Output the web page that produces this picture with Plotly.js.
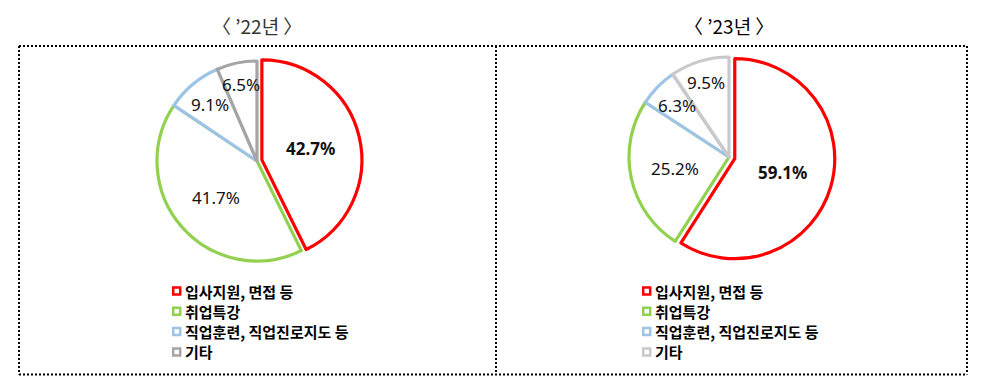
<!DOCTYPE html>
<html>
<head>
<meta charset="utf-8">
<script src="https://cdn.plot.ly/plotly-3.0.1.min.js"></script>
<style>
  html, body { margin: 0; padding: 0; background: #ffffff; }
  #chart { width: 982px; height: 385px; }
</style>
</head>
<body>
<div id="chart"></div>
<script>
// Categories shared by both years
const categories = ['입사지원, 면접 등', '취업특강', '직업훈련, 직업진로지도 등', '기타'];

// Share of each category (%)
const values2022 = [42.7, 41.7, 9.1, 6.5];
const values2023 = [59.1, 25.2, 6.3, 9.5];

const titles = ['〈 ’22년 〉', '〈 ’23년 〉'];

const colors2022 = ['#FF0000', '#92D050', '#9DC3E6', '#A5A5A5'];
const colors2023 = ['#FF0000', '#92D050', '#9DC3E6', '#C9C9C9'];

// ---- layout configuration (pixels) ----
const W = 982, H = 385;
const panels = [
  { values: values2022, colors: colors2022, title: titles[0], cx: 257, cy: 161, r: 100, pull: 0.05, legendX: 172, titleColor: '#333333' },
  { values: values2023, colors: colors2023, title: titles[1], cx: 729, cy: 157, r: 100, pull: 0.06, legendX: 642, titleColor: '#000000' }
];
// radial placement of the percentage labels, as a fraction of the radius
const labelRadius = [0.5, 0.55, 0.73, 0.78];
const legendRowY = 291, legendRowStep = 20.3;

const px2x = p => p / W;
const px2y = p => 1 - p / H;

const labelFont = 'Noto Sans, Noto Sans CJK KR, sans-serif';
const cjkFont = 'Noto Sans CJK KR, Noto Sans, sans-serif';

const traces = [];
const annotations = [];
const shapes = [];

panels.forEach((p, k) => {
  const half = p.r * (1 + p.pull);
  const pulls = p.values.map((v, i) => (i === 0 ? p.pull : 0));

  traces.push({
    type: 'pie',
    values: p.values,
    labels: categories,
    sort: false,
    direction: 'clockwise',
    rotation: 0,
    pull: pulls,
    textinfo: 'none',
    hoverinfo: 'label+percent',
    showlegend: false,
    marker: {
      colors: p.values.map(() => '#FFFFFF'),
      line: { color: p.colors, width: 3.2 }
    },
    domain: {
      x: [px2x(p.cx - half), px2x(p.cx + half)],
      y: [px2y(p.cy + half), px2y(p.cy - half)]
    }
  });

  // percentage labels placed along each slice's mid-angle
  const total = p.values.reduce((a, b) => a + b, 0);
  let cum = 0;
  p.values.forEach((v, i) => {
    const mid = (cum + v / 2) / total * 2 * Math.PI;
    cum += v;
    const dist = (pulls[i] + labelRadius[i]) * p.r;
    const lx = p.cx + dist * Math.sin(mid);
    const ly = p.cy - dist * Math.cos(mid);
    const txt = v.toFixed(1) + '%';
    annotations.push({
      xref: 'paper', yref: 'paper',
      x: px2x(lx), y: px2y(ly),
      xanchor: 'center', yanchor: 'middle',
      showarrow: false,
      text: i === 0 ? '<b>' + txt + '</b>' : txt,
      font: { family: labelFont, size: 17, color: '#111111' }
    });
  });

  // year heading
  annotations.push({
    xref: 'paper', yref: 'paper',
    x: px2x(p.cx), y: px2y(25),
    xanchor: 'center', yanchor: 'middle',
    showarrow: false,
    text: p.title,
    font: { family: cjkFont, size: 19, color: p.titleColor }
  });

  // legend: hollow coloured squares with bold labels
  categories.forEach((c, i) => {
    const yc = legendRowY + i * legendRowStep;
    shapes.push({
      type: 'rect', xref: 'paper', yref: 'paper',
      x0: px2x(p.legendX + 1.2), x1: px2x(p.legendX + 8.2),
      y0: px2y(yc + 3.5), y1: px2y(yc - 3.5),
      line: { color: p.colors[i], width: 2.5 },
      fillcolor: '#FFFFFF'
    });
    annotations.push({
      xref: 'paper', yref: 'paper',
      x: px2x(p.legendX + 10.5), y: px2y(yc),
      xanchor: 'left', yanchor: 'middle',
      showarrow: false,
      text: '<b>' + c + '</b>',
      font: { family: cjkFont, size: 15, color: '#000000' }
    });
  });
});

// dotted frame around both panels
const frameLine = { color: '#000000', width: 2, dash: '2px,2px' };
const frameLeft = 19, frameRight = 967, frameTop = 46, frameBottom = 374.5, frameDivider = 496;
[
  [frameLeft, frameTop, frameRight, frameTop],
  [frameLeft, frameBottom, frameRight, frameBottom],
  [frameLeft, frameTop, frameLeft, frameBottom],
  [frameRight, frameTop, frameRight, frameBottom],
  [frameDivider, frameTop, frameDivider, frameBottom]
].forEach(([x0, y0, x1, y1]) => {
  shapes.push({
    type: 'line', xref: 'paper', yref: 'paper',
    x0: px2x(x0), y0: px2y(y0), x1: px2x(x1), y1: px2y(y1),
    line: frameLine
  });
});

const layout = {
  width: W, height: H,
  margin: { l: 0, r: 0, t: 0, b: 0 },
  paper_bgcolor: '#FFFFFF',
  plot_bgcolor: '#FFFFFF',
  showlegend: false,
  annotations: annotations,
  shapes: shapes
};

Plotly.newPlot('chart', traces, layout, { displayModeBar: false, staticPlot: true });
</script>
</body>
</html>
